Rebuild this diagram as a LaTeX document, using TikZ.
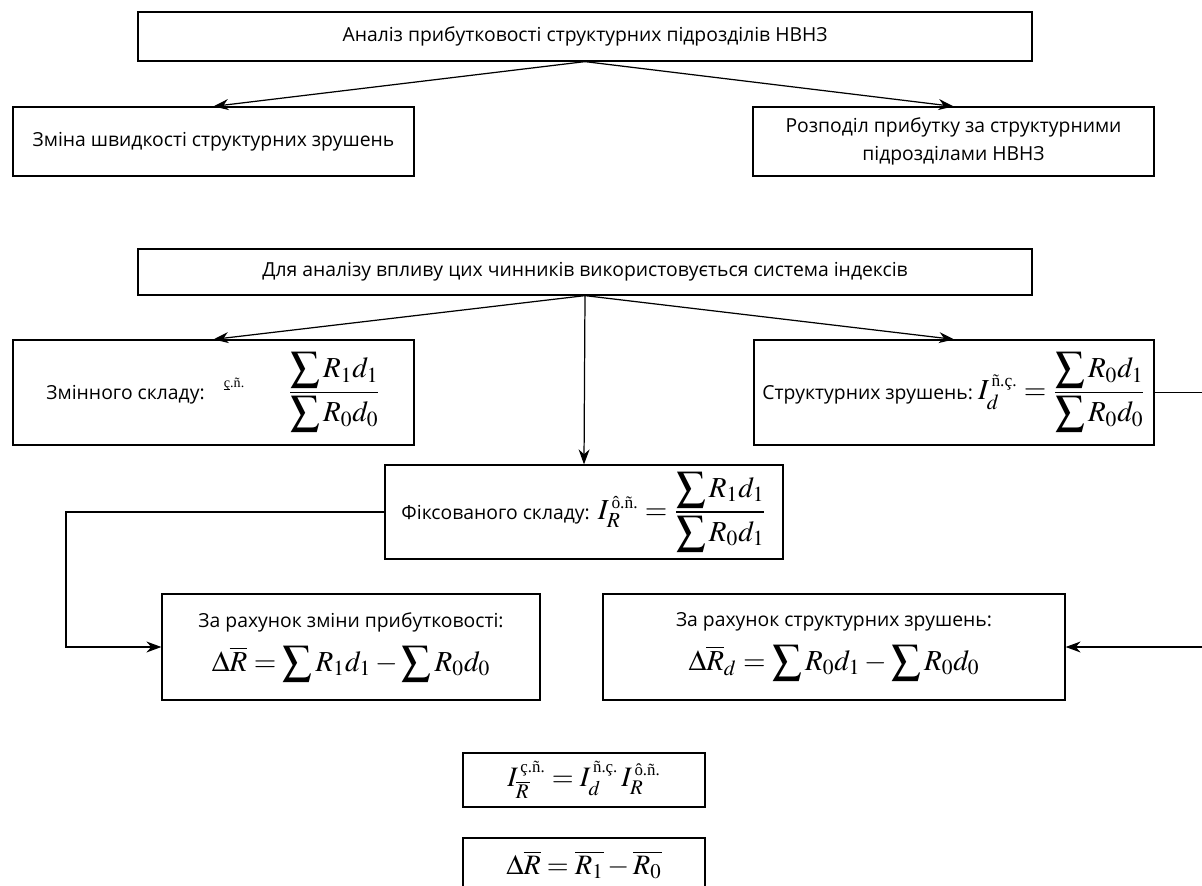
\documentclass[tikz,border=0pt]{standalone}
\usepackage{amsmath}
\usepackage{mathptmx}
\usepackage[no-math]{fontspec}
\setmainfont{Open Sans}
\newfontfamily\serifidx{Liberation Serif}
\usepackage{tikz}
\usetikzlibrary{positioning, arrows.meta, calc}

\newcommand{\idx}[1]{{\scriptscriptstyle\text{\serifidx #1}}}
\newcommand{\fml}{\fontsize{16.5}{20}\selectfont}
\newcommand{\bsum}{\displaystyle\sum}

\begin{document}
\begin{tikzpicture}[
    x=0.2mm, y=-0.2mm,
    box/.style={draw, line width=0.7pt, align=center, inner sep=2pt,
                font=\fontsize{11}{16}\selectfont},
    arr/.style={-{Stealth[length=3mm, width=2.2mm]}, line width=0.7pt},
    line/.style={line width=0.7pt}
]
\useasboundingbox (0,0) rectangle (1202,886);

% top level
\node[box, minimum width=178.8mm, minimum height=9.8mm] (top) at (585,36.5)
    {Аналіз прибутковості структурних підрозділів НВНЗ};
\node[box, minimum width=80.2mm, minimum height=13.8mm] (chg) at (213.5,141.5)
    {Зміна швидкості структурних зрушень};
\node[box, minimum width=80.2mm, minimum height=13.8mm] (dist) at (953.5,141.5)
    {Розподіл прибутку за структурними\\підрозділами НВНЗ};

% index system
\node[box, minimum width=178.8mm, minimum height=9.2mm] (mid) at (585,272)
    {Для аналізу впливу цих чинників використовується система індексів};
\node[box, minimum width=80.2mm, minimum height=21mm] (varc) at (213.5,392.5)
    {Змінного складу:\quad
     \raisebox{1.2ex}{\serifidx\footnotesize\underline{\smash{ç}}.ñ.}\qquad\
     {\fml$\dfrac{\bsum R_1d_1}{\bsum R_0d_0}$}};
\node[box, minimum width=80mm, minimum height=21mm] (strc) at (954,392.5)
    {Структурних зрушень:\ {\fml$I_d^{\,\idx{ñ.ç.}} = \dfrac{\bsum R_0d_1}{\bsum R_0d_0}$}};
\node[box, minimum width=79.6mm, minimum height=18.8mm] (fixc) at (584,512)
    {Фіксованого складу:\ \,{\fml$I_R^{\,\idx{ô.ñ.}} = \dfrac{\bsum R_1d_1}{\bsum R_0d_1}$}};

% absolute changes
\node[box, minimum width=75.6mm, minimum height=21.2mm] (prof) at (351,647)
    {За рахунок зміни прибутковості:\\[7pt]
     {\fml$\Delta\overline{R} = \bsum R_1d_1 - \bsum R_0d_0$}};
\node[box, minimum width=92.4mm, minimum height=21.2mm] (strz) at (834,647)
    {За рахунок структурних зрушень:\\[7pt]
     {\fml$\Delta\overline{R}_d = \bsum R_0d_1 - \bsum R_0d_0$}};

% links between indices
\node[box, minimum width=48.4mm, minimum height=10.8mm] (link) at (584,780)
    {\fontsize{16}{18}\selectfont$I_{\overline{R}}^{\,\idx{ç.ñ.}} = I_d^{\,\idx{ñ.ç.}}\, I_R^{\,\idx{ô.ñ.}}$};
\node[box, minimum width=48.4mm, minimum height=10.8mm] (diff) at (584,865)
    {\fontsize{16}{18}\selectfont$\Delta\overline{R} = \overline{R_1} - \overline{R_0}$};

\coordinate (lrail) at (66,0);
\coordinate (rrail) at (1225,0);

\draw[arr] (top.south) -- (chg.north);
\draw[arr] (top.south) -- (dist.north);
\draw[arr] (mid.south) -- (varc.north);
\draw[arr] (mid.south) -- (strc.north);
\draw[arr] (mid.south) -- (fixc.north);
\draw[arr] (fixc.west) -- (fixc.west -| lrail) |- (prof.west);
\draw[arr] (strc.east) -- (strc.east -| rrail) |- (strz.east);
\end{tikzpicture}
\end{document}
